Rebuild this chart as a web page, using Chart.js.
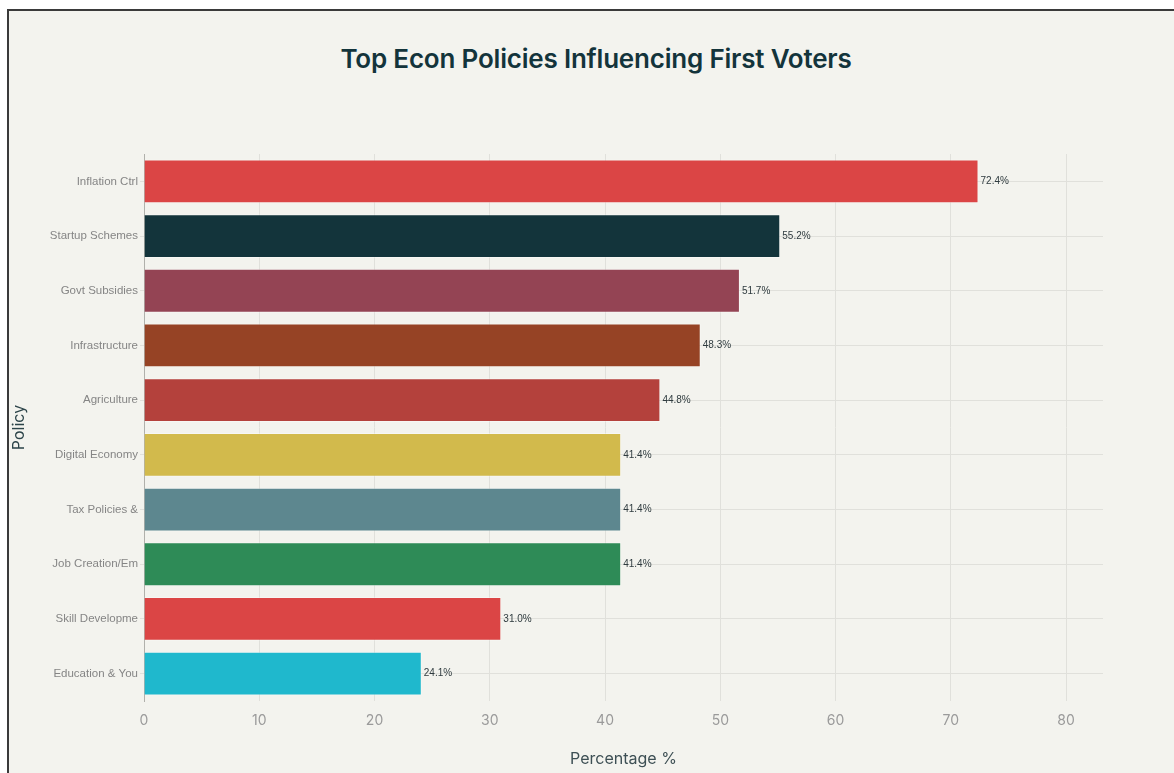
<!DOCTYPE html>
<html lang="en">
<head>
    <meta charset="UTF-8">
    <title>Top Econ Policies Influencing First Voters</title>
    <script src="https://cdn.jsdelivr.net/npm/chart.js"></script>
    <style>
        html, body { margin: 0; padding: 0; background: #fff; }
        .frame {
            position: absolute; left: 7px; top: 9px;
            width: 1200px; height: 800px;
            border: 2px solid #3a3a3a;
            background: #f3f3ee;
        }
        h2 {
            position: absolute; left: 0; top: 43px; width: 1192px; margin: 0;
            text-align: center;
            font: 600 26px Inter, "Liberation Sans", sans-serif;
            color: #13343B;
            letter-spacing: -0.2px;
        }
        .wrap { position: absolute; left: 0; top: 0; width: 1174px; height: 773px; }
    </style>
</head>
<body>
    <div class="frame"></div>
    <h2>Top Econ Policies Influencing First Voters</h2>
    <div class="wrap"><canvas id="policyChart"></canvas></div>

    <script>
        const policies = ['Inflation Ctrl', 'Startup Schemes', 'Govt Subsidies', 'Infrastructure', 'Agriculture',
            'Digital Economy', 'Tax Policies &', 'Job Creation/Em', 'Skill Developme', 'Education & You'];
        const percentages = [72.4, 55.2, 51.7, 48.3, 44.8, 41.4, 41.4, 41.4, 31.0, 24.1];
        const barColors = ['#DB4545', '#13343B', '#944454', '#964325', '#B4413C',
            '#D2BA4C', '#5D878F', '#2E8B57', '#DB4545', '#1FB8CD'];
        const xTicks = [0, 10, 20, 30, 40, 50, 60, 70, 80];

        // draws "72.4%" style labels just past the end of each bar
        const valueLabels = {
            id: 'valueLabels',
            afterDatasetsDraw(chart) {
                const ctx = chart.ctx;
                const meta = chart.getDatasetMeta(0);
                ctx.save();
                ctx.font = '10px "Liberation Sans", Arial, sans-serif';
                ctx.fillStyle = '#2f3b3f';
                ctx.textAlign = 'left';
                ctx.textBaseline = 'middle';
                meta.data.forEach((bar, i) => {
                    ctx.fillText(percentages[i].toFixed(1) + '%', bar.x + 2, bar.y);
                });
                ctx.restore();
            }
        };

        new Chart(document.getElementById('policyChart'), {
            type: 'bar',
            data: {
                labels: policies,
                datasets: [{
                    data: percentages,
                    backgroundColor: barColors,
                    borderColor: 'rgba(255,255,255,0.35)',
                    borderWidth: 1,
                    barPercentage: 0.8,
                    categoryPercentage: 1.0
                }]
            },
            options: {
                indexAxis: 'y',
                responsive: true,
                maintainAspectRatio: false,
                animation: false,
                layout: { padding: { left: 10, right: 71, top: 154, bottom: 0 } },
                plugins: {
                    legend: { display: false },
                    tooltip: { enabled: false }
                },
                scales: {
                    x: {
                        min: 0,
                        max: 83.2,
                        afterBuildTicks: axis => { axis.ticks = xTicks.map(v => ({ value: v })); },
                        afterFit: scale => { scale.height = 72; },
                        ticks: {
                            color: '#9a9a9a',
                            padding: 11,
                            font: { family: 'Inter, "Liberation Sans", sans-serif', size: 14 }
                        },
                        grid: { color: '#e0e0db', drawTicks: false },
                        border: { display: false },
                        title: {
                            display: true,
                            text: 'Percentage %',
                            color: '#3d4f54',
                            font: { family: 'Inter, "Liberation Sans", sans-serif', size: 16 },
                            padding: { top: 4, bottom: 4 }
                        }
                    },
                    y: {
                        afterFit: scale => { scale.width = 134; },
                        ticks: {
                            color: '#858585',
                            padding: 2,
                            font: { family: '"Liberation Sans", Arial, sans-serif', size: 11.5 }
                        },
                        grid: { color: '#e0e0db', tickLength: 4, offset: false },
                        border: { display: true, color: '#b0b0ab' },
                        title: {
                            display: true,
                            text: 'Policy',
                            color: '#2c4449',
                            font: { family: 'Inter, "Liberation Sans", sans-serif', size: 16 },
                            padding: { top: 0, bottom: 0 }
                        }
                    }
                }
            },
            plugins: [valueLabels]
        });
    </script>
</body>
</html>
